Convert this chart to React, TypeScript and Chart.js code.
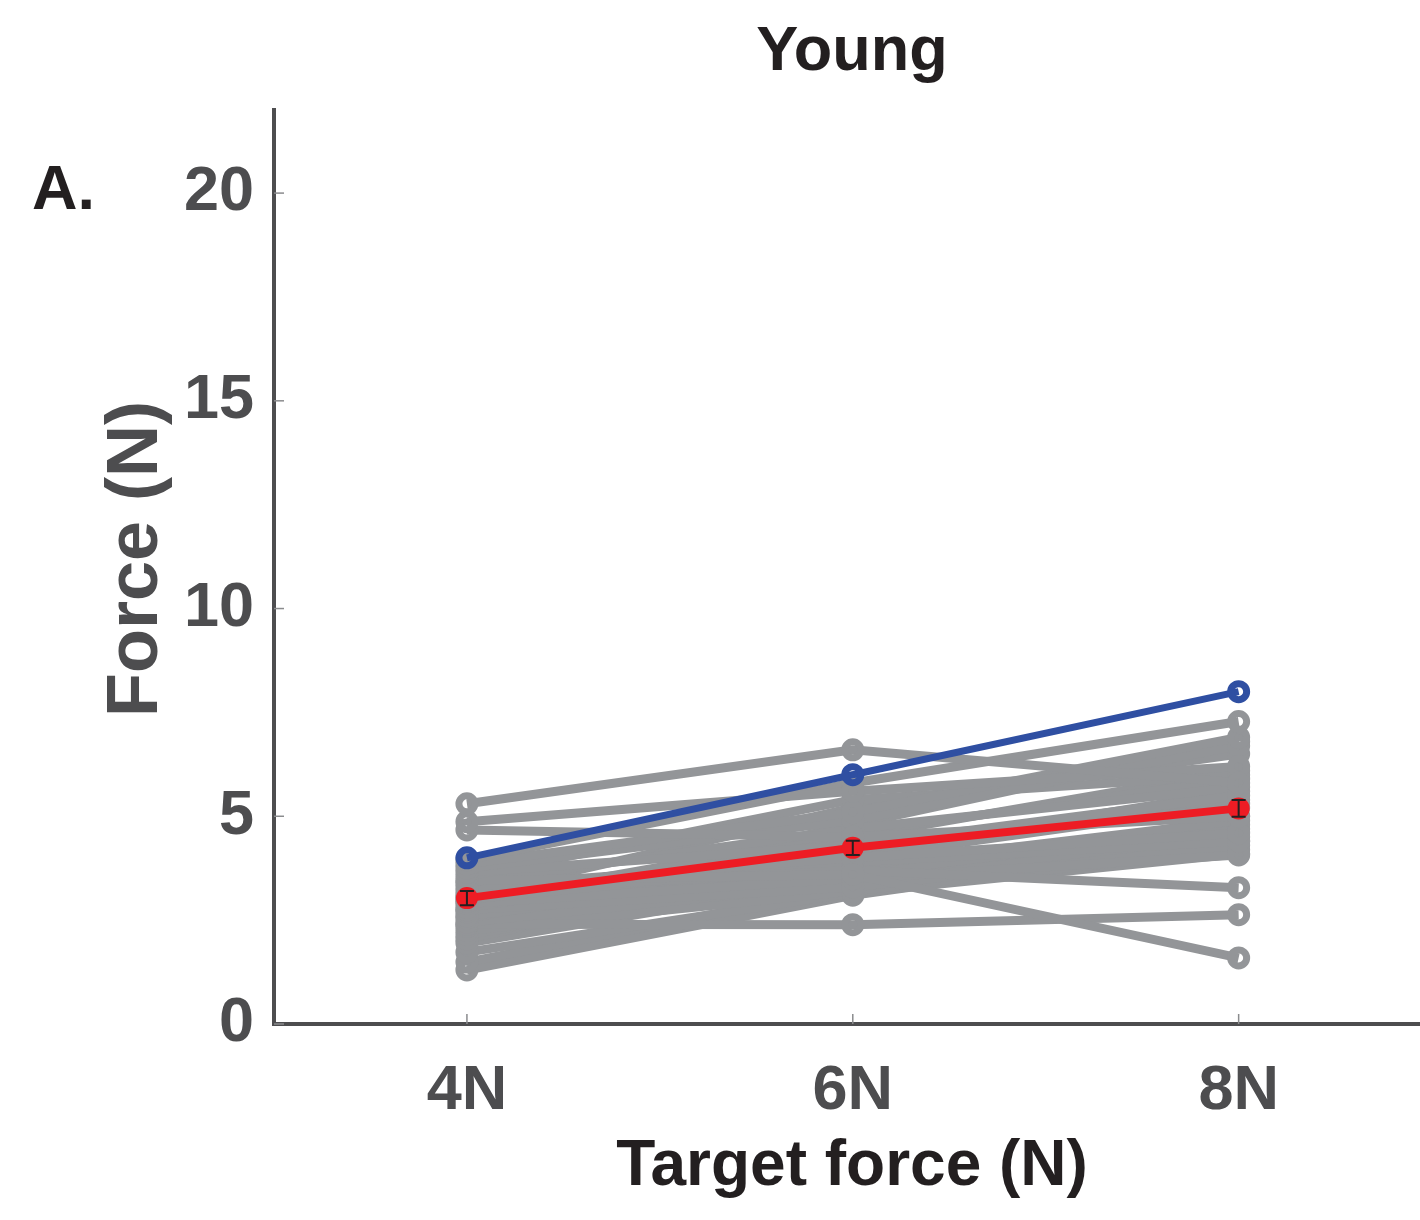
import React, { useEffect, useRef } from "react";
import { Chart, registerables } from "chart.js";

Chart.register(...registerables);

// Target force conditions
const categories = ["4N", "6N", "8N"];
const yTicks = [0, 5, 10, 15, 20];

// Produced force per participant (N), one array per target condition
const force4N = [5.30, 4.87, 4.67, 3.95, 3.85, 3.75, 3.65, 3.55, 3.45, 3.40, 3.30, 3.20, 3.10, 3.05, 3.00, 2.95,
  2.90, 2.80, 2.75, 2.70, 2.60, 2.55, 2.45, 2.40, 2.35, 2.25, 2.15, 2.05, 1.95, 1.73, 1.49, 1.30];
const force6N = [6.60, 5.60, 4.50, 5.80, 5.10, 4.90, 4.30, 5.40, 3.60, 4.70, 4.00, 3.70, 5.20, 4.40, 3.90, 4.60,
  3.50, 4.20, 3.30, 4.80, 3.80, 4.10, 3.40, 2.39, 4.50, 3.20, 3.60, 4.00, 3.50, 3.16, 3.30, 3.10];
const force8N = [5.80, 6.20, 5.00, 7.28, 6.90, 6.70, 5.50, 6.00, 1.59, 5.70, 4.60, 3.28, 6.50, 5.20, 4.40, 5.90,
  4.07, 5.40, 4.30, 6.80, 4.90, 5.60, 4.50, 2.63, 6.10, 4.20, 4.80, 5.30, 4.70, 4.10, 5.00, 4.40];

// Group mean and standard error
const meanForce = [3.03, 4.24, 5.19];
const semForce = [0.17, 0.17, 0.2];

// Ideal (target) force
const targetForce = [4, 6, 8];

const GRAY = "#939598";
const BLUE = "#2f4fa2";
const RED = "#ed1c24";
const AXIS = "#4d4d4f";
const INK = "#231f20";
const FONT = "'Liberation Sans', Arial, Helvetica, sans-serif";

const toPoints = (vals: number[]) => vals.map((v, i) => ({ x: i + 1, y: v }));

export default function App() {
  const canvasRef = useRef<HTMLCanvasElement | null>(null);

  useEffect(() => {
    const canvas = canvasRef.current;
    if (!canvas) return;

    const subjects = force4N.map((_, i) => [force4N[i], force6N[i], force8N[i]]);

    const grayDatasets = subjects.map((vals, i) => ({
      label: `S${i + 1}`,
      data: toPoints(vals),
      borderColor: GRAY,
      borderWidth: 9,
      pointRadius: 8,
      pointBorderWidth: 7,
      pointBorderColor: GRAY,
      pointBackgroundColor: "rgba(0,0,0,0)",
      clip: false as const,
    }));

    // Inward tick marks drawn beneath the data
    const innerTicks = {
      id: "innerTicks",
      beforeDatasetsDraw(chart: any) {
        const { ctx, chartArea, scales } = chart;
        ctx.save();
        ctx.strokeStyle = "#8a8b8d";
        ctx.lineWidth = 1.5;
        yTicks.forEach((t) => {
          const y = scales.y.getPixelForValue(t);
          ctx.beginPath();
          ctx.moveTo(chartArea.left, y);
          ctx.lineTo(chartArea.left + 10, y);
          ctx.stroke();
        });
        categories.forEach((_, i) => {
          const x = scales.x.getPixelForValue(i + 1);
          ctx.beginPath();
          ctx.moveTo(x, chartArea.bottom);
          ctx.lineTo(x, chartArea.bottom - 10);
          ctx.stroke();
        });
        ctx.restore();
      },
    };

    // Error bars on the group mean
    const errorBars = {
      id: "errorBars",
      afterDatasetsDraw(chart: any) {
        const { ctx, scales } = chart;
        ctx.save();
        ctx.strokeStyle = INK;
        ctx.lineWidth = 2;
        meanForce.forEach((m, i) => {
          const x = scales.x.getPixelForValue(i + 1);
          const yTop = scales.y.getPixelForValue(m + semForce[i]);
          const yBot = scales.y.getPixelForValue(m - semForce[i]);
          ctx.beginPath();
          ctx.moveTo(x, yTop);
          ctx.lineTo(x, yBot);
          ctx.moveTo(x - 7, yTop);
          ctx.lineTo(x + 7, yTop);
          ctx.moveTo(x - 7, yBot);
          ctx.lineTo(x + 7, yBot);
          ctx.stroke();
        });
        ctx.restore();
      },
    };

    // Panel letter, title and axis titles
    const labels = {
      id: "labels",
      afterDraw(chart: any) {
        const { ctx, chartArea } = chart;
        ctx.save();
        ctx.textBaseline = "alphabetic";
        ctx.fillStyle = INK;
        ctx.font = `bold 63px ${FONT}`;
        ctx.textAlign = "left";
        ctx.fillText("A.", 32, 209);
        ctx.textAlign = "center";
        ctx.fillText("Young", 852, 70);
        ctx.font = `bold 64px ${FONT}`;
        ctx.fillText("Target force (N)", 852, 1185);

        ctx.fillStyle = AXIS;
        ctx.font = `bold 72px ${FONT}`;
        ctx.translate(157, (chartArea.top + chartArea.bottom) / 2 - 8);
        ctx.rotate(-Math.PI / 2);
        ctx.fillText("Force (N)", 0, 0);
        ctx.restore();
      },
    };

    const chart = new Chart(canvas, {
      type: "line",
      data: {
        datasets: [
          {
            label: "Mean",
            data: toPoints(meanForce),
            borderColor: RED,
            borderWidth: 8,
            pointRadius: 11,
            pointBorderWidth: 0,
            pointBackgroundColor: RED,
            clip: false as const,
          },
          {
            label: "Target",
            data: toPoints(targetForce),
            borderColor: BLUE,
            borderWidth: 7,
            pointRadius: 8,
            pointBorderWidth: 7,
            pointBorderColor: BLUE,
            pointBackgroundColor: "rgba(0,0,0,0)",
            clip: false as const,
          },
          ...grayDatasets,
        ],
      },
      options: {
        animation: false,
        responsive: false,
        events: [],
        layout: { autoPadding: false, padding: { top: 110, right: 0, left: 0, bottom: 0 } },
        plugins: {
          legend: { display: false },
          title: { display: false },
          tooltip: { enabled: false },
        },
        scales: {
          x: {
            type: "linear",
            min: 0.5,
            max: 3.47,
            grid: { display: false },
            border: { display: true, color: AXIS, width: 4 },
            afterBuildTicks: (scale: any) => {
              scale.ticks = categories.map((_, i) => ({ value: i + 1 }));
            },
            afterFit: (scale: any) => {
              scale.height = 196;
              scale.paddingLeft = 0;
              scale.paddingRight = 0;
            },
            ticks: {
              autoSkip: false,
              maxRotation: 0,
              padding: 22,
              color: AXIS,
              font: { family: FONT, size: 63, weight: "bold" },
              callback: (v: any) => categories[Math.round(Number(v)) - 1] ?? "",
            },
          },
          y: {
            type: "linear",
            min: 0,
            max: 22,
            grid: { display: false },
            border: { display: true, color: AXIS, width: 4 },
            afterBuildTicks: (scale: any) => {
              scale.ticks = yTicks.map((v) => ({ value: v }));
            },
            afterFit: (scale: any) => {
              scale.width = 274;
              scale.paddingTop = 0;
              scale.paddingBottom = 0;
            },
            ticks: {
              padding: 12,
              color: AXIS,
              font: { family: FONT, size: 63, weight: "bold" },
            },
          },
        },
      },
      plugins: [innerTicks, errorBars, labels],
    });

    return () => chart.destroy();
  }, []);

  return (
    <div
      style={{
        position: "fixed",
        left: 0,
        top: 0,
        width: 1420,
        height: 1220,
        overflow: "hidden",
        background: "#fff",
      }}
    >
      <canvas
        ref={canvasRef}
        width={1420}
        height={1220}
        style={{ display: "block", width: 1420, height: 1220 }}
      />
    </div>
  );
}
